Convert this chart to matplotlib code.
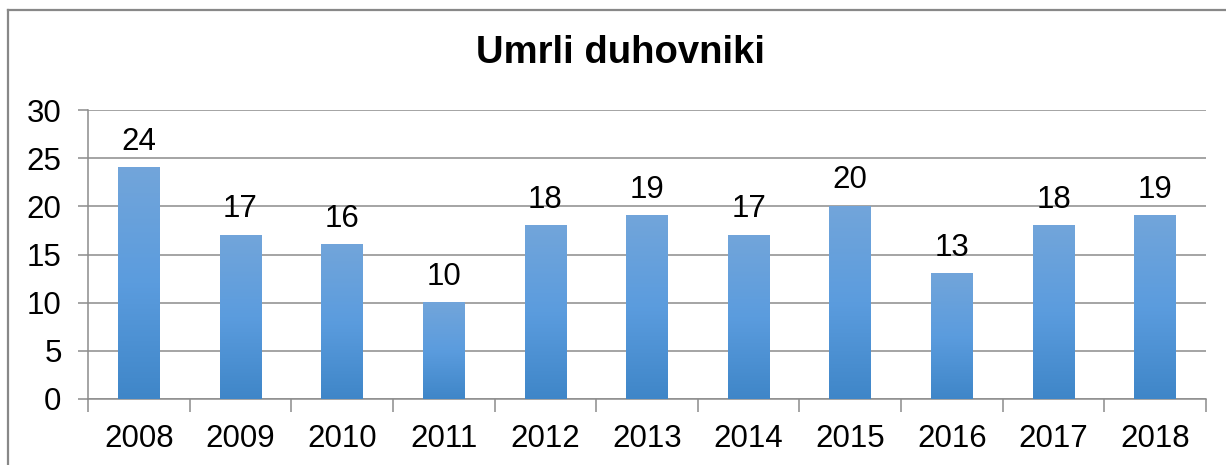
import matplotlib
matplotlib.use("Agg")
import matplotlib.pyplot as plt
import numpy as np
from matplotlib.colors import LinearSegmentedColormap
from matplotlib.lines import Line2D

years = ["2008", "2009", "2010", "2011", "2012", "2013", "2014", "2015", "2016", "2017", "2018"]
deaths = [24, 17, 16, 10, 18, 19, 17, 20, 13, 18, 19]
title = "Umrli duhovniki"

plt.rcParams['font.family'] = ['Liberation Sans', 'DejaVu Sans']

fig = plt.figure(figsize=(12.26, 4.65), dpi=100)
ax = fig.add_axes([88/1226, 1-399/465, (1206-88)/1226, (399-110)/465])

x = np.arange(len(years))
bars = ax.bar(x, deaths, width=0.41, color='none', zorder=3)

cmap = LinearSegmentedColormap.from_list('g', ['#3F86C8', '#5B9CDE', '#72A5DA'])
grad = np.linspace(0, 1, 256).reshape(-1, 1)
for b in bars:
    x0, w, h = b.get_x(), b.get_width(), b.get_height()
    ax.imshow(grad, cmap=cmap, origin='lower', aspect='auto',
              extent=[x0, x0 + w, 0, h], zorder=3, interpolation='bilinear')
    ax.annotate(f"{int(h)}", (x0 + w/2, h), xytext=(0, 13), textcoords='offset points',
                ha='center', va='baseline', fontsize=22.5, color='black', zorder=4)

ax.set_xlim(-0.5, len(years) - 0.5)
ax.set_ylim(0, 30)
ax.set_yticks(np.arange(0, 31, 5))
ax.set_xticks(x)
ax.set_xticklabels(years)
ax.set_xticks(np.arange(-0.5, len(years), 1), minor=True)
ax.tick_params(axis='x', which='major', length=0, labelsize=22.5, pad=18)
ax.tick_params(axis='x', which='minor', length=9, width=1.1, color='#8C8C8C')
ax.tick_params(axis='y', length=7, width=1.1, color='#8C8C8C', labelsize=22.5, pad=12)

ax.grid(axis='y', color='#8C8C8C', linewidth=1.1, zorder=0)
ax.set_axisbelow(True)
for s in ['top', 'right']:
    ax.spines[s].set_visible(False)
for s in ['left', 'bottom']:
    ax.spines[s].set_color('#8C8C8C')
    ax.spines[s].set_linewidth(1.1)

fig.text(621/1226, 1-53/465, title, ha='center', va='center', fontsize=27.5, fontweight='bold')

# outer chart border (top and left visible)
fig.add_artist(Line2D([7.5/1226, 7.5/1226], [0, 1-10/465], transform=fig.transFigure, color='#888888', lw=1.6))
fig.add_artist(Line2D([7.5/1226, 1], [1-10/465, 1-10/465], transform=fig.transFigure, color='#888888', lw=1.6))

fig.savefig("out.png", dpi=100)
